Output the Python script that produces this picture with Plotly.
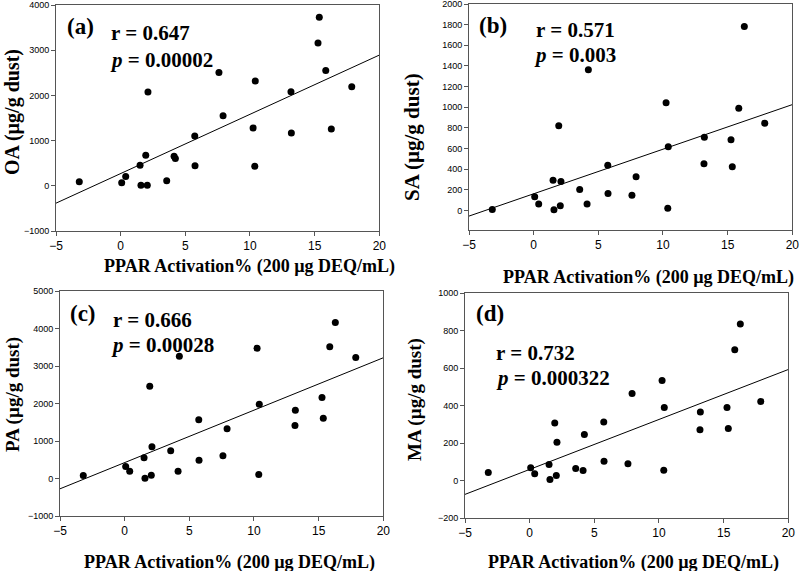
import plotly.graph_objects as go

W, H = 800, 571

# PPAR activation (%) for the 25 dust samples (shared by all panels)
ppar = [-3.2, 0.08, 0.39, 1.5, 1.57, 1.94, 2.06, 2.11, 3.56, 4.13, 4.23, 5.73, 5.75,
        7.6, 7.92, 10.24, 10.37, 10.41, 13.17, 13.2, 15.26, 15.36, 15.86, 16.29, 17.87]

oa = [88, 66, 205, 455, 13, 675, 13, 2075, 110, 653, 603, 1104, 441,
      2508, 1552, 1280, 433, 2318, 2082, 1170, 3157, 3728, 2552, 1258, 2192]
sa = [10, 133, 61, 293, 7, 820, 45, 281, 203, 61, 1364, 438, 164,
      148, 326, 1042, 22, 616, 452, 709, 684, 423, 990, 1783, 845]
pa = [80, 320, 195, 552, 8, 2461, 88, 845, 739, 195, 3261, 1565, 488,
      605, 1325, 3475, 107, 1981, 1413, 1821, 2160, 1608, 3512, 4160, 3227]
ma = [43, 68, 36, 85, 5, 307, 27, 204, 64, 53, 246, 312, 103,
      89, 464, 533, 55, 390, 271, 365, 390, 278, 697, 835, 422]

# regression line end points
fit_x = [-5, 20]
fit_oa = [-384, 2892]
fit_sa = [-55, 1025]
fit_pa = [-275, 3220]
fit_ma = [-74, 592]

panel_labels = ["(a)", "(b)", "(c)", "(d)"]
r_texts = ["r = 0.647", "r = 0.571", "r = 0.666", "r = 0.732"]
p_texts = ["0.00002", "0.003", "0.00028", "0.000322"]
y_titles = ["OA (µg/g dust)", "SA (µg/g dust)", "PA (µg/g dust)", "MA (µg/g dust)"]
x_title = "PPAR Activation% (200 µg DEQ/mL)"
x_ticks = [-5, 0, 5, 10, 15, 20]
y_ticks = [
    [-1000, 0, 1000, 2000, 3000, 4000],
    [0, 200, 400, 600, 800, 1000, 1200, 1400, 1600, 1800, 2000],
    [-1000, 0, 1000, 2000, 3000, 4000, 5000],
    [-200, 0, 200, 400, 600, 800, 1000],
]
y_ranges = [[-1000, 4000], [-185, 2000], [-1000, 5000], [-200, 1000]]
ys = [oa, sa, pa, ma]
fits = [fit_oa, fit_sa, fit_pa, fit_ma]

def px(x):
    return x / W

def py(y):
    return 1 - y / H

# plot-area boxes in pixels: left, right, top, bottom
boxes = [(56, 379.3, 5, 231), (469, 792.3, 4, 229.5), (60, 383.3, 291, 516), (465, 788.3, 293, 518)]
xtitle_pos = [(249, 266), (248 + 400, 277), (229, 562), (233 + 400, 562)]
ytitle_pos = [(12, 112), (412, 137), (13, 395), (415, 400)]
ytitle_size = [20, 21, 19, 19]
lab_pos = [(80, 27), (493, 25), (83, 313), (490, 313)]
r_pos = [(110, 33), (535, 30), (112, 320), (495, 353)]
p_pos = [(109, 60), (533, 55), (110, 345), (495, 378)]

fig = go.Figure()
layout = dict(width=W, height=H, margin=dict(l=0, r=0, t=0, b=0, pad=0, autoexpand=False),
              paper_bgcolor="white", plot_bgcolor="white", showlegend=False)
annotations = []
serif = "Liberation Serif, Times New Roman, serif"
sans = "Liberation Sans, Arial, sans-serif"

for i in range(4):
    xa = "x" if i == 0 else f"x{i+1}"
    ya = "y" if i == 0 else f"y{i+1}"
    xk = "xaxis" if i == 0 else f"xaxis{i+1}"
    yk = "yaxis" if i == 0 else f"yaxis{i+1}"
    l, r, t, b = boxes[i]
    fig.add_trace(go.Scatter(x=fit_x, y=fits[i], mode="lines", xaxis=xa, yaxis=ya,
                             line=dict(color="black", width=1), hoverinfo="skip"))
    fig.add_trace(go.Scatter(x=ppar, y=ys[i], mode="markers", xaxis=xa, yaxis=ya,
                             marker=dict(color="black", size=7)))
    layout[xk] = dict(domain=[px(l), px(r)], range=[-5, 20], tickvals=x_ticks,
                      showgrid=False, zeroline=False, showline=True, mirror=True,
                      linecolor="#555555", linewidth=1, ticks="outside", ticklen=4,
                      tickcolor="#555555", anchor=ya, automargin=False,
                      ticklabeloverflow="allow",
                      tickfont=dict(family=sans, size=12, color="black"))
    layout[yk] = dict(domain=[py(b), py(t)], range=y_ranges[i], tickvals=y_ticks[i],
                      showgrid=False, zeroline=False, showline=True, mirror=True,
                      linecolor="#555555", linewidth=1, ticks="outside", ticklen=4,
                      tickcolor="#555555", anchor=xa, automargin=False,
                      ticklabeloverflow="allow",
                      tickfont=dict(family=sans, size=9, color="black"))
    annotations.append(dict(text=f"<b>{x_title}</b>", x=px(xtitle_pos[i][0]), y=py(xtitle_pos[i][1]),
                            xref="paper", yref="paper", showarrow=False, xanchor="center", yanchor="middle",
                            font=dict(family=serif, size=18, color="black")))
    annotations.append(dict(text=f"<b>{y_titles[i]}</b>", x=px(ytitle_pos[i][0]), y=py(ytitle_pos[i][1]),
                            xref="paper", yref="paper", showarrow=False, xanchor="center", yanchor="middle",
                            textangle=-90, font=dict(family=serif, size=ytitle_size[i], color="black")))
    annotations.append(dict(text=f"<b>{panel_labels[i]}</b>", x=px(lab_pos[i][0]), y=py(lab_pos[i][1]),
                            xref="paper", yref="paper", showarrow=False, xanchor="center", yanchor="middle",
                            font=dict(family=serif, size=23, color="black")))
    annotations.append(dict(text=f"<b>{r_texts[i]}</b>", x=px(r_pos[i][0]), y=py(r_pos[i][1]),
                            xref="paper", yref="paper", showarrow=False, xanchor="left", yanchor="middle",
                            borderpad=0, font=dict(family=serif, size=21, color="black")))
    annotations.append(dict(text=f"<b><i>p</i> = {p_texts[i]}</b>", x=px(p_pos[i][0]), y=py(p_pos[i][1]),
                            xref="paper", yref="paper", showarrow=False, xanchor="left", yanchor="middle",
                            borderpad=0, font=dict(family=serif, size=21, color="black")))

layout["annotations"] = annotations
fig.update_layout(**layout)
fig.write_html("out.html", config={"displayModeBar": False},
               post_script="document.body.style.margin='0';document.body.style.padding='0';"
                           "document.body.style.overflow='hidden';"
                           "document.documentElement.style.overflow='hidden';")
